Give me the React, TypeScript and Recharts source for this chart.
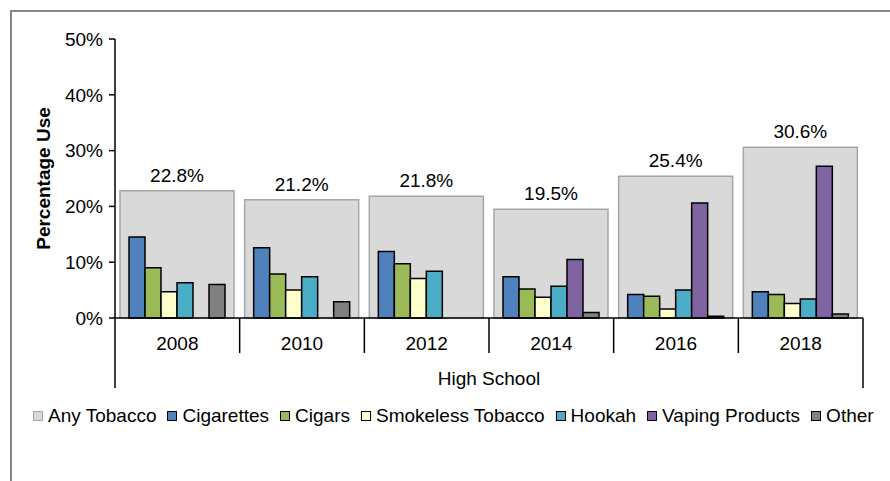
import { Bar, BarChart, LabelList, XAxis, YAxis } from "recharts";

const YEARS = ["2008", "2010", "2012", "2014", "2016", "2018"];
const ANY_TOBACCO = [22.8, 21.2, 21.8, 19.5, 25.4, 30.6];
const CIGARETTES = [14.5, 12.6, 11.9, 7.4, 4.2, 4.7];
const CIGARS = [9.0, 7.9, 9.7, 5.2, 3.9, 4.2];
const SMOKELESS = [4.7, 5.0, 7.1, 3.7, 1.6, 2.6];
const HOOKAH = [6.3, 7.4, 8.4, 5.7, 5.0, 3.4];
const VAPING: (number | null)[] = [null, null, null, 10.5, 20.6, 27.2];
const OTHER: (number | null)[] = [6.0, 2.9, null, 1.0, 0.3, 0.7];
const Y_TICKS = [0, 10, 20, 30, 40, 50];
const GROUP_LABEL = "High School";

const SERIES = [
  { key: "any", name: "Any Tobacco", fill: "#D9D9D9", stroke: "#A6A6A6" },
  { key: "cig", name: "Cigarettes", fill: "#4F81BD", stroke: "#000" },
  { key: "cigars", name: "Cigars", fill: "#9BBB59", stroke: "#000" },
  { key: "smokeless", name: "Smokeless Tobacco", fill: "#FFFFCC", stroke: "#000" },
  { key: "hookah", name: "Hookah", fill: "#4BACC6", stroke: "#000" },
  { key: "vaping", name: "Vaping Products", fill: "#8064A2", stroke: "#000" },
  { key: "other", name: "Other", fill: "#808080", stroke: "#000" },
];

const data = YEARS.map((year, i) => ({
  year,
  any: ANY_TOBACCO[i],
  cig: CIGARETTES[i],
  cigars: CIGARS[i],
  smokeless: SMOKELESS[i],
  hookah: HOOKAH[i],
  vaping: VAPING[i],
  other: OTHER[i],
}));

const FONT = "'Liberation Sans', Arial, sans-serif";
const W = 890;
const H = 481;
const MARGIN = { top: 39, right: 27, left: 0, bottom: 93 };
const Y_WIDTH = 115;
const BAND = (W - MARGIN.left - MARGIN.right - Y_WIDTH) / YEARS.length;

function YearTick({ x, y, payload, index }: any) {
  const last = index === YEARS.length - 1;
  return (
    <g>
      <line x1={x - BAND / 2} x2={x - BAND / 2} y1={y} y2={y + (index === 0 ? 70 : 35)} stroke="#000" strokeWidth={1.5} />
      {last && <line x1={x + BAND / 2} x2={x + BAND / 2} y1={y} y2={y + 70} stroke="#000" strokeWidth={1.5} />}
      <text x={x} y={y + 25} textAnchor="middle" dominantBaseline="central" fontSize={19} fill="#000" fontFamily={FONT}>
        {payload.value}
      </text>
      {index === 2 && (
        <text x={x + BAND / 2} y={y + 60} textAnchor="middle" dominantBaseline="central" fontSize={19} fill="#000" fontFamily={FONT}>
          {GROUP_LABEL}
        </text>
      )}
    </g>
  );
}

const yLabel = (props: any) => {
  const vb = props.viewBox;
  const cx = vb.x + 43;
  const cy = vb.y + vb.height / 2;
  return (
    <text x={cx} y={cy} transform={`rotate(-90 ${cx} ${cy})`} textAnchor="middle" dominantBaseline="central" fontSize={19} fontWeight="bold" fill="#000" fontFamily={FONT}>
      Percentage Use
    </text>
  );
};

export default function App() {
  return (
    <div style={{ position: "absolute", left: 0, top: 0, width: W, height: H, background: "#fff", overflow: "hidden", fontFamily: FONT }}>
      <div style={{ position: "absolute", left: 10, top: 10, width: 920, height: 520, border: "2px solid #868686" }} />
      <div style={{ position: "absolute", left: 0, top: 0 }}>
        <BarChart width={W} height={H} data={data} margin={MARGIN} barGap={0}>
          <XAxis xAxisId="sm" dataKey="year" height={70} tickSize={0} tickMargin={0} tickLine={false}
            axisLine={{ stroke: "#000", strokeWidth: 1.5 }} tick={<YearTick />} interval={0} />
          <XAxis xAxisId="any" dataKey="year" hide height={0} />
          <YAxis
            domain={[0, 50]}
            ticks={Y_TICKS}
            width={Y_WIDTH}
            tickFormatter={(v: number) => `${v}%`}
            tick={{ fontSize: 19, fill: "#000", fontFamily: FONT }}
            tickSize={6}
            tickMargin={6}
            axisLine={{ stroke: "#000", strokeWidth: 1.5 }}
            tickLine={{ stroke: "#000", strokeWidth: 1.5 }}
            label={yLabel}
          />
          <Bar xAxisId="any" dataKey="any" name="Any Tobacco" barSize={114} fill="#D9D9D9" stroke="#A6A6A6" strokeWidth={1.5} isAnimationActive={false}>
            <LabelList dataKey="any" position="top" offset={9} formatter={(v: any) => `${Number(v).toFixed(1)}%`} style={{ fontSize: 19, fill: "#000", fontFamily: FONT }} />
          </Bar>
          {SERIES.slice(1).map((s) => (
            <Bar
              key={s.key}
              xAxisId="sm"
              dataKey={s.key}
              name={s.name}
              barSize={16}
              fill={s.fill}
              stroke={s.stroke}
              strokeWidth={1.5}
              isAnimationActive={false}
            />
          ))}
        </BarChart>
      </div>
      <div
        style={{
          position: "absolute",
          left: 33,
          top: 404,
          display: "flex",
          alignItems: "center",
          fontSize: 19,
          color: "#000",
          whiteSpace: "nowrap",
          lineHeight: "24px",
        }}
      >
        {SERIES.map((s) => (
          <div key={s.key} style={{ display: "flex", alignItems: "center", marginRight: 11 }}>
            <span style={{ width: 8, height: 8, background: s.fill, border: `1px solid ${s.key === "any" ? "#A6A6A6" : "#000"}`, marginRight: 5 }} />
            <span>{s.name}</span>
          </div>
        ))}
      </div>
    </div>
  );
}
